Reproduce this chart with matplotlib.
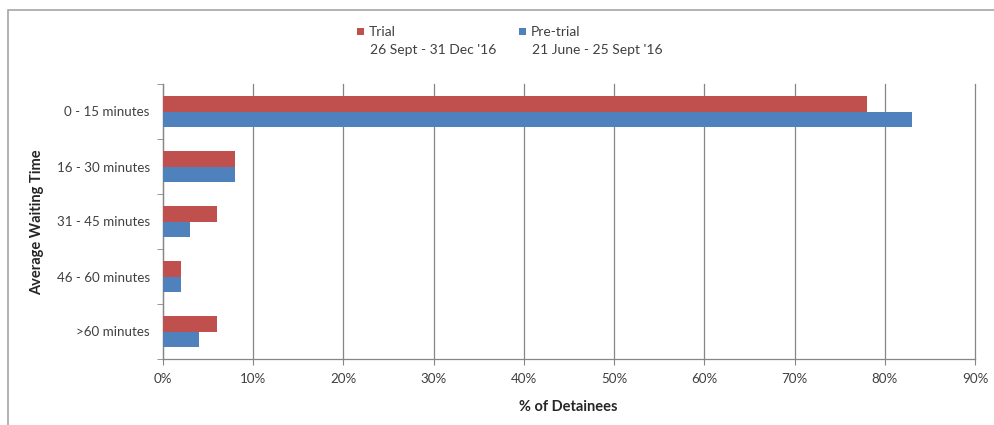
import matplotlib.pyplot as plt
import numpy as np
from matplotlib.patches import Rectangle
from matplotlib.ticker import FuncFormatter, FixedLocator

categories = ["0 - 15 minutes", "16 - 30 minutes", "31 - 45 minutes",
              "46 - 60 minutes", ">60 minutes"]
trial = [78, 8, 6, 2, 6]
pre_trial = [83, 8, 3, 2, 4]
series_names = ["Trial", "Pre-trial"]
series_periods = ["26 Sept - 31 Dec '16", "21 June - 25 Sept '16"]
colors = ["#C0504D", "#4F81BD"]

plt.rcParams['font.family'] = ['Lato', 'DejaVu Sans']

W, H = 995, 425
fig = plt.figure(figsize=(W / 100, H / 100), dpi=100)

# outer chart frame
fig.add_artist(Rectangle((8 / W, -0.05), 1.05, (H - 10) / H + 0.05,
                         transform=fig.transFigure, fill=False,
                         edgecolor="#A6A6A6", linewidth=1.2))

left, right, top, bottom = 163, 975, 84, 359
aw, ah = right - left, bottom - top
ax = fig.add_axes([left / W, 1 - bottom / H, aw / W, ah / H])

n = len(categories)
y = np.arange(n)
h = 0.29
ax.barh(y - h / 2, trial, height=h, color=colors[0], zorder=3)
ax.barh(y + h / 2, pre_trial, height=h, color=colors[1], zorder=3)

ax.set_ylim(n - 0.5, -0.5)
ax.set_xlim(0, 90)
ax.set_xticks(np.arange(0, 91, 10))
ax.xaxis.set_major_formatter(FuncFormatter(lambda v, p: f"{v:.0f}%"))
ax.set_yticks(y)
ax.set_yticklabels(categories)
ax.yaxis.set_minor_locator(FixedLocator(np.arange(-0.5, n, 1.0)))
ax.tick_params(axis="y", which="major", length=0, pad=9.5, labelsize=9.6, labelcolor="#404040")
ax.tick_params(axis="y", which="minor", length=4, color="#868686", direction="out")
ax.tick_params(axis="x", length=4, color="#868686", labelsize=9.6, labelcolor="#404040", pad=6)

ax.grid(axis="x", color="#868686", linewidth=0.9, zorder=0)
for gl in ax.get_xgridlines():
    gl.set_clip_on(False)
for s in ["top", "right"]:
    ax.spines[s].set_visible(False)
for s in ["left", "bottom"]:
    ax.spines[s].set_color("#868686")
    ax.spines[s].set_linewidth(0.9)

ax.set_xlabel("% of Detainees", fontsize=10.5, fontweight="bold", color="#262626")
ax.set_ylabel("Average Waiting Time", fontsize=10.5, fontweight="bold", color="#262626")
ax.xaxis.set_label_coords((568 - left) / aw, (bottom - 407) / ah)
ax.xaxis.label.set_va("center")
ax.yaxis.set_label_coords((37 - left) / aw, (bottom - 222) / ah)
ax.yaxis.label.set_va("center")

# legend: colour key with period below each name
sq = 7
for i, (name, period, c) in enumerate(zip(series_names, series_periods, colors)):
    x0 = [357, 519][i]
    fig.add_artist(Rectangle((x0 / W, 1 - 35 / H), sq / W, sq / H,
                             transform=fig.transFigure, facecolor=c, edgecolor="none"))
    fig.text((x0 + 12) / W, 1 - 32 / H, name, fontsize=10, color="#404040",
             va="center", ha="left")
    fig.text((x0 + 13) / W, 1 - 50 / H, period, fontsize=10, color="#404040",
             va="center", ha="left")

fig.savefig("out.png", dpi=100)
